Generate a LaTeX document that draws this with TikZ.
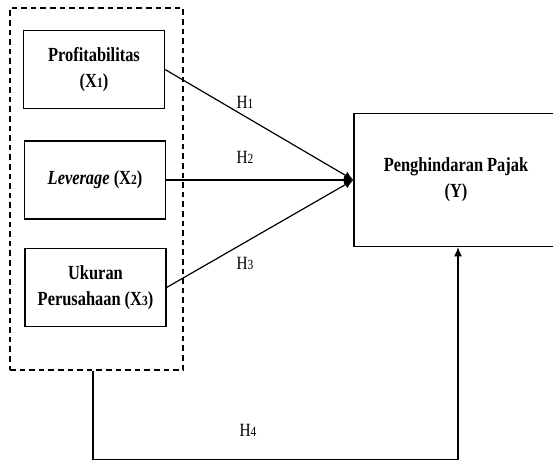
\documentclass[tikz,border=0pt]{standalone}
\usepackage{fontspec}
\setmainfont{Liberation Serif}
\newfontfamily\narrowserif{Liberation Serif}[FakeStretch=0.82]
\usetikzlibrary{arrows.meta,positioning}
\newcommand{\smalldigit}[1]{{\fontsize{10.5}{10.5}\selectfont #1}}
\tikzset{
  varbox/.style={
    rectangle,
    draw=black,
    line width=0.9pt,
    align=center,
    minimum width=105.75pt,
    minimum height=58.5pt,
    inner sep=2pt,
    font=\narrowserif\bfseries\fontsize{15}{19.5}\selectfont
  },
  groupbox/.style={
    rectangle,
    draw=black,
    line width=0.9pt,
    dash pattern=on 4.2pt off 3pt,
    minimum width=129.75pt,
    minimum height=271.5pt,
    inner sep=0pt
  },
  hlabel/.style={
    font=\narrowserif\fontsize{14}{14}\selectfont,
    inner sep=1pt
  },
  flowline/.style={-{Latex[length=7pt,width=6pt]},line width=0.9pt}
}
\begin{document}
\begin{tikzpicture}[x=0.75pt,y=-0.75pt]
  \clip (0,0) rectangle (553,461);
  \node[groupbox] (grp) at (96.5,189) {};
  \node[varbox] (prof) at (94,69.5) {Profitabilitas\\(X\smalldigit{1})};
  \node[varbox] (lev) at (95,180) {\textit{Leverage} (X\smalldigit{2})};
  \node[varbox] (size) at (95.5,287.5) {Ukuran\\Perusahaan (X\smalldigit{3})};
  \node[varbox, minimum width=153pt, minimum height=99.75pt] (tax) at (456,180) {Penghindaran Pajak\\(Y)};
  \coordinate (base) at (0,459.5);
  \node[hlabel] (h1) at (245,102) {H\smalldigit{1}};
  \node[hlabel] (h2) at (245,157) {H\smalldigit{2}};
  \node[hlabel] (h3) at (245,263) {H\smalldigit{3}};
  \node[hlabel] (h4) at (248,430) {H\smalldigit{4}};
  \draw[flowline] (prof.east) -- (tax.west);
  \draw[flowline] (lev.east) -- (tax.west);
  \draw[flowline] (size.east) -- (tax.west);
  \draw[flowline] ([xshift=-2.6pt]grp.south) -- ([xshift=-2.6pt]grp.south |- base) -| ([xshift=1.5pt]tax.south);
\end{tikzpicture}
\end{document}
